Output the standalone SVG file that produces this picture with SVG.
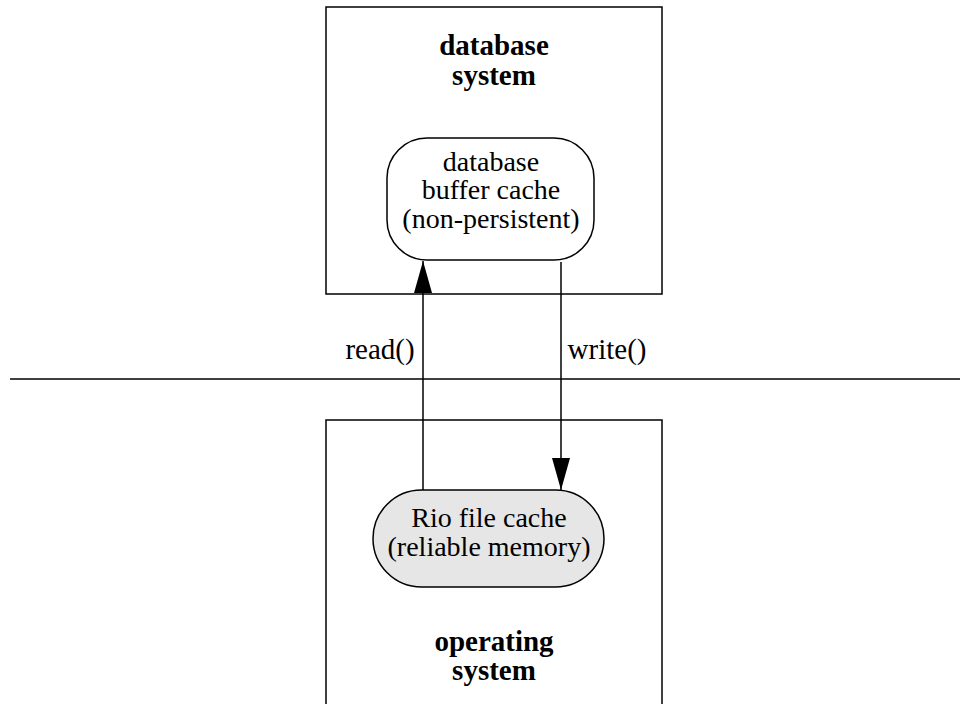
<svg xmlns="http://www.w3.org/2000/svg" width="960" height="704" viewBox="0 0 960 704">
<style>
.box{fill:none;stroke:#000;stroke-width:1.5}
.node{stroke:#000;stroke-width:1.5}
.t{font-family:"Liberation Serif","Times New Roman",serif;font-size:29px;text-anchor:middle;fill:#000}
.n{font-size:28px}
.b{font-weight:bold}
.c{stroke:#000;stroke-width:1.5;fill:none}
</style>
<defs>
<marker id="ah" markerUnits="userSpaceOnUse" markerWidth="34" markerHeight="18" refX="32" refY="9" orient="auto" viewBox="0 0 34 18">
<path d="M0,0 L32,9 L0,18 Z" fill="#000"/>
</marker>
</defs>
<rect width="960" height="704" fill="#fff"/>
<line x1="10" y1="379" x2="960" y2="379" class="c"/>
<g id="database-system">
<rect x="326" y="7" width="336" height="287" class="box"/>
<text class="t b" x="494" y="55">database</text>
<text class="t b" x="494" y="85">system</text>
</g>
<g id="operating-system">
<rect x="326" y="420" width="336" height="300" class="box"/>
<text class="t b" x="494" y="651">operating</text>
<text class="t b" x="494" y="680">system</text>
</g>
<g id="buffer-cache">
<rect x="387" y="138" width="207" height="122" rx="40" ry="40" fill="#fff" class="node"/>
<text class="t n" x="491" y="171">database</text>
<text class="t n" x="491" y="199">buffer cache</text>
<text class="t n" x="491" y="228">(non-persistent)</text>
</g>
<g id="rio-cache">
<rect x="373" y="490" width="231" height="97" rx="48.5" ry="48.5" fill="#e6e6e6" class="node"/>
<text class="t n" x="489" y="527">Rio file cache</text>
<text class="t n" x="489" y="556">(reliable memory)</text>
</g>
<g id="connectors">
<line x1="423" y1="490" x2="423" y2="261" class="c" marker-end="url(#ah)"/>
<line x1="561" y1="262" x2="561" y2="490" class="c" marker-end="url(#ah)"/>
<text class="t" x="380" y="359">read()</text>
<text class="t" x="607" y="359">write()</text>
</g>
</svg>
